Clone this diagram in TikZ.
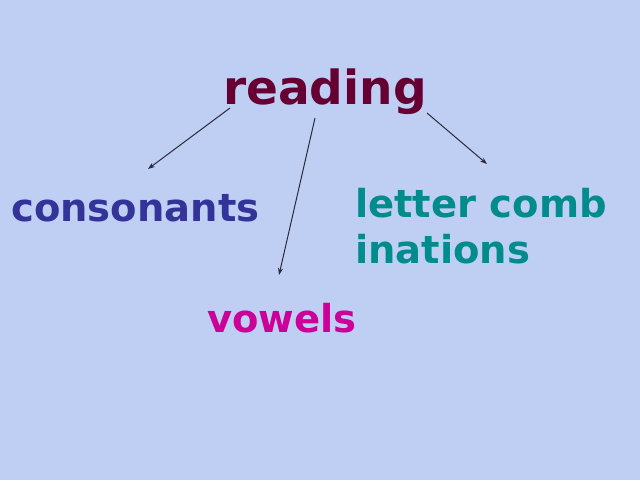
\documentclass[tikz,border=0pt]{standalone}
\usepackage{fontspec}
\setmainfont{DejaVu Sans}
\usetikzlibrary{arrows.meta}
\definecolor{bgc}{HTML}{BFCFF3}
\definecolor{readc}{HTML}{660033}
\definecolor{consc}{HTML}{333399}
\definecolor{letc}{HTML}{008C8C}
\definecolor{vowc}{HTML}{CC0099}
\definecolor{arrc}{HTML}{2A2A3A}
\tikzset{
  word/.style={inner sep=0pt, anchor=base west, font=\bfseries\fontsize{38.5}{46}\selectfont},
  title/.style={inner sep=0pt, anchor=base west, font=\bfseries\fontsize{47}{56}\selectfont},
  link/.style={arrc, line width=1pt, -{Stealth[length=7pt,width=5pt]}}
}
\begin{document}
\begin{tikzpicture}[x=1pt,y=-1pt]
\fill[bgc] (0,0) rectangle (640,480);
\useasboundingbox (0,0) rectangle (640,480);
\node[title, text=readc] (reading) at (223,104) {reading};
\node[word, text=consc] (cons) at (11,221) {consonants};
\node[word, text=letc] (lc1) at (355,217) {letter comb};
\node[word, text=letc] (lc2) at (355,263) {inations};
\node[word, text=vowc] (vow) at (207,332) {vowels};
\coordinate (s1) at (230,108);
\coordinate (t1) at (148,169);
\coordinate (s2) at (315,118);
\coordinate (t2) at (279,275);
\coordinate (s3) at (427,113);
\coordinate (t3) at (487,164);
\draw[link] (s1) -- (t1);
\draw[link] (s2) -- (t2);
\draw[link] (s3) -- (t3);
\end{tikzpicture}
\end{document}
